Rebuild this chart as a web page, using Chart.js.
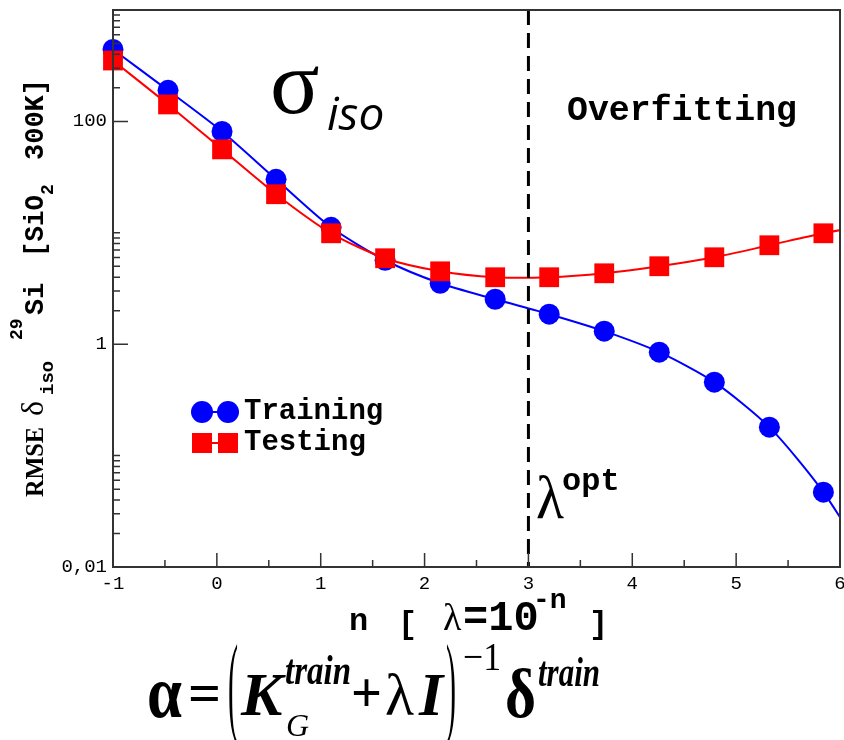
<!DOCTYPE html>
<html>
<head>
<meta charset="utf-8">
<script src="https://cdn.jsdelivr.net/npm/chart.js@4.4.1/dist/chart.umd.min.js"></script>
<style>
  html, body { margin: 0; padding: 0; background: #fff; }
</style>
</head>
<body>
<canvas id="myChart" width="844" height="740"></canvas>
<script>
// regularisation exponent n, lambda = 10^-n
const nValues = [-1, -0.47, 0.05, 0.57, 1.10, 1.62, 2.15, 2.68, 3.20, 3.73, 4.26, 4.79, 5.32, 5.84, 6.37]
const trainingRmse = [442, 190, 81.3, 30.2, 11.2, 5.67, 3.52, 2.53, 1.86, 1.31, 0.848, 0.456, 0.180, 0.047, 0.0078]
const testingRmse = [352, 142, 56.1, 22.2, 9.90, 5.91, 4.51, 3.99, 3.99, 4.33, 5.01, 6.03, 7.73, 9.90, 12.2]

const xTicks = [-1, 0, 1, 2, 3, 4, 5, 6]
const xMinorTicks = [-0.5, 0.5, 1.5, 2.5, 3.5, 4.5, 5.5]
const yTicks = [0.01, 1, 100]
const yTickLabels = ['0,01', '1', '100']
const yMinorDecades = [0.01, 1, 100]
const optN = 3

const MONO = '"Liberation Mono", "DejaVu Sans Mono", monospace'
const SERIF = '"Liberation Serif", "DejaVu Serif", serif'
const SANS = '"Open Sans", "Noto Sans", sans-serif'

const put = (ctx, t, x, y, font, maxW) => {
    ctx.font = font
    if (maxW) ctx.fillText(t, x, y, maxW)
    else ctx.fillText(t, x, y)
}

const frame = {
    id: 'frame',
    afterDatasetsDraw(chart) {
        const {ctx, chartArea: a, scales: {x, y}} = chart
        ctx.save()
        // lambda opt marker
        const xo = x.getPixelForValue(optN)
        ctx.strokeStyle = '#000'
        ctx.lineWidth = 3
        ctx.setLineDash([15, 8])
        ctx.beginPath()
        ctx.moveTo(xo, a.top)
        ctx.lineTo(xo, a.bottom)
        ctx.stroke()
        ctx.setLineDash([])

        ctx.strokeStyle = '#333'
        ctx.lineWidth = 2
        ctx.strokeRect(a.left, a.top, a.right - a.left, a.bottom - a.top)

        // inward ticks, grace style
        ctx.lineWidth = 1.5
        ctx.beginPath()
        xTicks.forEach(v => {
            const p = x.getPixelForValue(v)
            ctx.moveTo(p, a.bottom); ctx.lineTo(p, a.bottom - 14)
        })
        xMinorTicks.forEach(v => {
            const p = x.getPixelForValue(v)
            ctx.moveTo(p, a.bottom); ctx.lineTo(p, a.bottom - 7)
        })
        yTicks.forEach(v => {
            const p = y.getPixelForValue(v)
            ctx.moveTo(a.left, p); ctx.lineTo(a.left + 15, p)
        })
        yMinorDecades.forEach(d => {
            for (let k = 2; k <= 10; k++) {
                const p = y.getPixelForValue(d * k)
                ctx.moveTo(a.left, p); ctx.lineTo(a.left + 7, p)
            }
        })
        ctx.stroke()
        ctx.restore()
    },
    afterDraw(chart) {
        const {ctx} = chart
        ctx.save()
        ctx.fillStyle = '#000'
        ctx.textBaseline = 'alphabetic'
        ctx.textAlign = 'left'

        // annotations inside the plot
        put(ctx, 'σ', 270, 113, `92px ${SERIF}`, 54)
        put(ctx, 'iso', 327, 130, `italic 46px ${SANS}`, 58)
        put(ctx, 'Overfitting', 567, 120, `bold 35px ${MONO}`, 230)
        put(ctx, 'λ', 536, 518, `62px ${SERIF}`, 28)
        put(ctx, 'opt', 562, 490, `bold 32px ${MONO}`, 64)

        // legend
        const legend = [
            {label: 'Training', color: '#0000ff', shape: 'circle', y: 412},
            {label: 'Testing', color: '#ff0000', shape: 'rect', y: 443},
        ]
        legend.forEach(it => {
            ctx.strokeStyle = it.color
            ctx.fillStyle = it.color
            ctx.lineWidth = 2
            ctx.beginPath(); ctx.moveTo(202, it.y); ctx.lineTo(228, it.y); ctx.stroke()
            ;[202, 228].forEach(cx => {
                ctx.beginPath()
                if (it.shape === 'circle') ctx.arc(cx, it.y, 11, 0, Math.PI * 2)
                else ctx.rect(cx - 10, it.y - 10, 20, 20)
                ctx.fill()
            })
            ctx.fillStyle = '#000'
            put(ctx, it.label, 244, it.y + 7, `bold 29px ${MONO}`, 146)
        })

        // x axis title: n [ λ=10^-n ]
        put(ctx, 'n', 349, 630, `bold 32px ${MONO}`)
        put(ctx, '[', 398, 633, `bold 32px ${MONO}`)
        put(ctx, 'λ', 443, 630, `38px ${SERIF}`)
        put(ctx, '=10', 463, 630, `bold 42px ${MONO}`, 84)
        put(ctx, '-n', 533, 608, `bold 28px ${MONO}`, 38)
        put(ctx, ']', 589, 633, `bold 32px ${MONO}`)

        // y axis title, rotated
        ctx.save()
        ctx.translate(43, 497)
        ctx.rotate(-Math.PI / 2)
        const yTitle = [
            {t: 'RMSE', u: 0, dy: 0, font: `bold 26px ${SERIF}`, w: 70},
            {t: 'δ', u: 81, dy: 0, font: `32px ${SERIF}`, w: 20},
            {t: 'iso', u: 102, dy: 10, font: `bold 19px ${MONO}`, w: 38},
            {t: '29', u: 157, dy: -21, font: `bold 18px ${MONO}`, w: 24},
            {t: 'Si', u: 182, dy: 0, font: `bold 27px ${MONO}`, w: 36},
            {t: '[SiO', u: 240, dy: 0, font: `bold 27px ${MONO}`, w: 62},
            {t: '2', u: 302, dy: 10, font: `bold 18px ${MONO}`, w: 15},
            {t: '300K]', u: 337, dy: 0, font: `bold 27px ${MONO}`, w: 82},
        ]
        yTitle.forEach(p => put(ctx, p.t, p.u, p.dy, p.font, p.w))
        ctx.restore()

        // ridge regression formula
        const formula = [
            {t: 'α', x: 147, y: 717, font: `bold 74px ${SERIF}`, w: 35},
            {t: '=', x: 188, y: 712, font: `bold 58px ${SERIF}`, w: 34},
            {t: '(', x: 228, y: 722, font: `112px ${SERIF}`, w: 10},
            {t: 'K', x: 241, y: 715, font: `bold italic 62px ${SERIF}`, w: 48},
            {t: 'train', x: 285, y: 684, font: `bold italic 42px ${SERIF}`, w: 66},
            {t: 'G', x: 286, y: 736, font: `italic 32px ${SERIF}`, w: 27},
            {t: '+', x: 351, y: 712, font: `bold 58px ${SERIF}`, w: 31},
            {t: 'λ', x: 385, y: 715, font: `60px ${SERIF}`, w: 29},
            {t: 'I', x: 419, y: 715, font: `bold italic 62px ${SERIF}`, w: 26},
            {t: ')', x: 446, y: 722, font: `112px ${SERIF}`, w: 10},
            {t: '−1', x: 463, y: 670, font: `40px ${SERIF}`, w: 38},
            {t: 'δ', x: 505, y: 717, font: `bold 70px ${SERIF}`, w: 31},
            {t: 'train', x: 538, y: 686, font: `bold italic 42px ${SERIF}`, w: 62},
        ]
        formula.forEach(p => put(ctx, p.t, p.x, p.y, p.font, p.w))
        ctx.restore()
    }
}

const ctx = document.getElementById('myChart').getContext('2d')
const toPoints = vals => nValues.map((n, i) => ({x: n, y: vals[i]}))

const chart = new Chart(ctx, {
    type: 'line',
    data: {
        datasets: [{
            label: 'Testing',
            data: toPoints(testingRmse),
            borderColor: '#ff0000',
            backgroundColor: '#ff0000',
            borderWidth: 2,
            pointStyle: 'rect',
            pointRadius: 14,
            pointBorderWidth: 0,
            tension: 0.25,
            order: 0,
            clip: {left: 20, top: 20, right: 0, bottom: 0},
        }, {
            label: 'Training',
            data: toPoints(trainingRmse),
            borderColor: '#0000ff',
            backgroundColor: '#0000ff',
            borderWidth: 2,
            pointStyle: 'circle',
            pointRadius: 10.5,
            pointBorderWidth: 0,
            tension: 0.25,
            order: 1,
            clip: {left: 20, top: 20, right: 0, bottom: 0},
        }]
    },
    options: {
        responsive: false,
        animation: false,
        devicePixelRatio: 1,
        layout: {autoPadding: false, padding: {top: 10, right: 4, left: 0, bottom: 0}},
        plugins: {legend: {display: false}, tooltip: {enabled: false}},
        scales: {
            x: {
                type: 'linear',
                min: -1,
                max: 6,
                ticks: {
                    stepSize: 1,
                    padding: 6,
                    color: '#000',
                    font: {family: MONO, size: 19},
                    maxRotation: 0,
                },
                grid: {display: false, drawTicks: false},
                border: {display: false},
                afterFit(s) { s.height = 173; s.paddingLeft = 0; s.paddingRight = 0 },
            },
            y: {
                type: 'logarithmic',
                min: 0.01,
                max: 1000,
                afterBuildTicks(s) { s.ticks = yTicks.map(v => ({value: v})) },
                ticks: {
                    padding: 6,
                    color: '#000',
                    font: {family: MONO, size: 19},
                    callback: (v) => yTickLabels[yTicks.indexOf(v)] ?? '',
                },
                grid: {display: false, drawTicks: false},
                border: {display: false},
                afterFit(s) { s.width = 113; s.paddingTop = 0; s.paddingBottom = 0 },
            }
        }
    },
    plugins: [frame]
})
</script>
</body>
</html>
